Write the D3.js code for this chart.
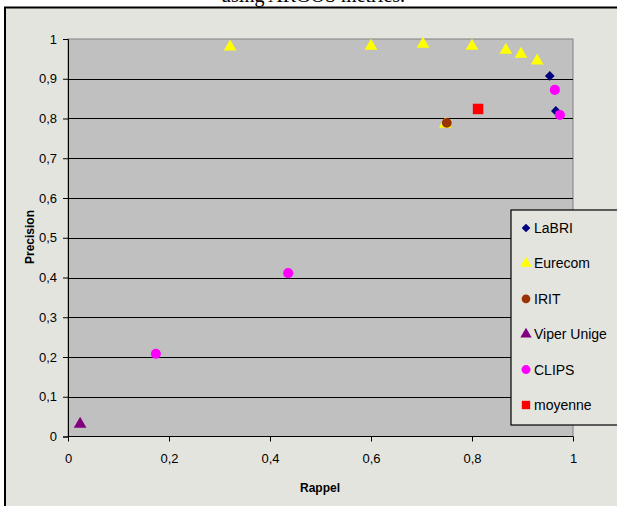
<!DOCTYPE html>
<html>
<head>
<meta charset="utf-8">
<script src="https://cdn.jsdelivr.net/npm/d3@7"></script>
<style>
  body { margin: 0; background: #fff; }
  svg { display: block; }
</style>
</head>
<body>
<div id="chart"></div>
<script>
// series data
const labriX = [0.954, 0.966];
const labriY = [0.907, 0.819];
const eurecomX = [0.321, 0.6, 0.703, 0.8, 0.867, 0.897, 0.929, 0.747];
const eurecomY = [0.980, 0.982, 0.987, 0.982, 0.972, 0.962, 0.945, 0.786];
const iritX = [0.750];
const iritY = [0.789];
const viperX = [0.024];
const viperY = [0.031];
const clipsX = [0.964, 0.974, 0.436, 0.174];
const clipsY = [0.872, 0.809, 0.411, 0.208];
const moyX = [0.812];
const moyY = [0.824];

const seriesNames = ["LaBRI", "Eurecom", "IRIT", "Viper Unige", "CLIPS", "moyenne"];
const xTicks = [0, 0.2, 0.4, 0.6, 0.8, 1];
const yTicks = [0, 0.1, 0.2, 0.3, 0.4, 0.5, 0.6, 0.7, 0.8, 0.9, 1];

const width = 617, height = 506;
const plot = {left: 68, right: 573, top: 39, bottom: 436.5};

const svg = d3.select("#chart").append("svg")
    .attr("width", width)
    .attr("height", height);

// title, mostly cut off at the top
svg.append("text")
    .attr("x", 313).attr("y", 2)
    .attr("text-anchor", "middle")
    .attr("font-family", "Liberation Serif, Times New Roman, serif")
    .attr("font-size", 20)
    .text("using ARGOS metrics.");

// chart area frame
svg.append("rect")
    .attr("x", 5).attr("y", 7.5)
    .attr("width", 700).attr("height", 600)
    .attr("fill", "#e4e4df")
    .attr("stroke", "#000")
    .attr("stroke-width", 2);

const x = d3.scaleLinear().domain([0, 1]).range([plot.left, plot.right]);
const y = d3.scaleLinear().domain([0, 1]).range([plot.bottom, plot.top]);

svg.append("rect")
    .attr("x", plot.left).attr("y", plot.top)
    .attr("width", plot.right - plot.left)
    .attr("height", plot.bottom - plot.top)
    .attr("fill", "#c0c0c0")
    .attr("stroke", "#808080")
    .attr("stroke-width", 1);

// gridlines
svg.append("g")
    .selectAll("line")
    .data(yTicks.slice(1, -1))
    .join("line")
    .attr("x1", plot.left).attr("x2", plot.right)
    .attr("y1", d => Math.round(y(d)) + 0.5)
    .attr("y2", d => Math.round(y(d)) + 0.5)
    .attr("stroke", "#000");

const fmt = d => d3.format("~g")(d).replace(".", ",");

const yAxis = svg.append("g")
    .attr("transform", `translate(${plot.left},0)`)
    .call(d3.axisLeft(y).tickValues(yTicks).tickFormat(fmt).tickSize(5).tickPadding(6));

const xAxis = svg.append("g")
    .attr("transform", `translate(0,${plot.bottom})`)
    .call(d3.axisBottom(x).tickValues(xTicks).tickFormat(fmt).tickSize(5).tickPadding(12));

[yAxis, xAxis].forEach(a => {
    a.selectAll("text")
        .attr("font-family", "Liberation Sans, Arial, sans-serif")
        .attr("font-size", 13)
        .attr("fill", "#000");
    a.selectAll("line").attr("stroke", "#000");
    a.select(".domain").attr("stroke", "#000");
});
xAxis.select(".domain").remove();
xAxis.append("line")
    .attr("x1", plot.left).attr("x2", plot.right)
    .attr("stroke", "#000");

// axis titles
svg.append("text")
    .attr("transform", `translate(34,237) rotate(-90)`)
    .attr("text-anchor", "middle")
    .attr("font-family", "Liberation Sans, Arial, sans-serif")
    .attr("font-weight", "bold")
    .attr("font-size", 12)
    .text("Precision");

svg.append("text")
    .attr("x", 320).attr("y", 492)
    .attr("text-anchor", "middle")
    .attr("font-family", "Liberation Sans, Arial, sans-serif")
    .attr("font-weight", "bold")
    .attr("font-size", 12)
    .text("Rappel");

const series = [
    {name: seriesNames[0], xs: labriX, ys: labriY, color: "#000080", shape: d3.symbolDiamond2, size: 60, rot: 0},
    {name: seriesNames[1], xs: eurecomX, ys: eurecomY, color: "#ffff00", shape: d3.symbolTriangle, size: 70},
    {name: seriesNames[2], xs: iritX, ys: iritY, color: "#993300", shape: d3.symbolCircle, size: 75},
    {name: seriesNames[3], xs: viperX, ys: viperY, color: "#800080", shape: d3.symbolTriangle, size: 70},
    {name: seriesNames[4], xs: clipsX, ys: clipsY, color: "#ff00ff", shape: d3.symbolCircle, size: 80},
    {name: seriesNames[5], xs: moyX, ys: moyY, color: "#ff0000", shape: d3.symbolSquare, size: 110}
];

series.forEach(s => {
    svg.append("g")
        .selectAll("path")
        .data(s.xs.map((v, i) => [v, s.ys[i]]))
        .join("path")
        .attr("d", d3.symbol().type(s.shape).size(s.size))
        .attr("transform", d => `translate(${x(d[0])},${y(d[1])})`)
        .attr("fill", s.color);
});

// legend
const legend = svg.append("g").attr("transform", "translate(511,210)");
legend.append("rect")
    .attr("x", 0).attr("y", 0)
    .attr("width", 120).attr("height", 215)
    .attr("fill", "#e4e4df")
    .attr("stroke", "#000")
    .attr("stroke-width", 1.2);

const rowY = d3.scalePoint().domain(seriesNames).range([18, 195]);
series.forEach(s => {
    const g = legend.append("g").attr("transform", `translate(0,${rowY(s.name)})`);
    g.append("path")
        .attr("d", d3.symbol().type(s.shape).size(s.shape === d3.symbolSquare ? 70 : s.size * 0.8))
        .attr("transform", "translate(15,0)")
        .attr("fill", s.color);
    g.append("text")
        .attr("x", 23).attr("y", 5)
        .attr("font-family", "Liberation Sans, Arial, sans-serif")
        .attr("font-size", 14)
        .text(s.name);
});
</script>
</body>
</html>
